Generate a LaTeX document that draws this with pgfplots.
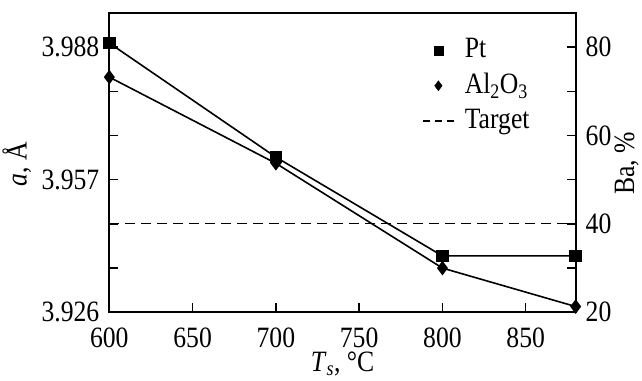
\documentclass[border=0pt]{standalone}
\usepackage{fontspec}
\setmainfont{Liberation Serif}[FakeStretch=0.87]
\usepackage{pgfplots}
\pgfplotsset{compat=1.18}
\begin{document}
\fontsize{29.5}{34}\selectfont
\begin{tikzpicture}
\path[use as bounding box] (-109.3pt,-67.7pt) rectangle (532.7pt,312.3pt);
\pgfplotsset{
  every axis/.append style={
    width=466.4pt, height=299.3pt, scale only axis,
    xmin=600, xmax=880, ymin=20, ymax=87.7,
    tick align=inside, major tick length=9pt,
    axis line style={line width=1.8pt},
    tick style={line width=1.4pt, black},
    /pgf/number format/assume math mode=true,
    tick label style={font=\fontsize{29.5}{34}\selectfont},
    label style={font=\fontsize{29.5}{34}\selectfont, inner sep=0pt},
  }
}
\begin{axis}[
  xtick={600,650,...,850}, xtick pos=left,
  ytick={20,30,...,80}, ytick pos=left,
  yticklabels={3.926,,,3.957,,,3.988},
  xticklabel style={yshift=-6pt},
  xlabel={\textit{T}\textsubscript{\textit{s}}, °C},
  xlabel style={at={(axis description cs:0.5,-0.199)}, anchor=base},
  ylabel={\textit{a}, Å},
  ylabel style={at={(axis description cs:-0.1771,0.495)}, anchor=base},
  legend style={draw=none, fill=none, at={(0.67,0.922)}, anchor=north west,
    inner sep=0pt, font=\fontsize{29.5}{34}\selectfont, row sep=7pt,
    /tikz/every odd column/.append style={column sep=8pt}},
  legend cell align=left,
  legend image code/.code={\draw[mark repeat=2,mark phase=2,#1] plot coordinates {(0pt,0pt) (15.8pt,0pt) (31.6pt,0pt)};},
]
\addplot[black, line width=1.6pt, mark=square*, mark size=5.5pt, forget plot] coordinates {
  (600,80.9) (700,55.1) (800,32.75) (880,32.75)};
\addplot[black, line width=1.6pt, mark=diamond*, mark size=6pt, forget plot] coordinates {
  (600,73.2) (700,53.7) (800,30.0) (880,21.3)};
\addplot[black, line width=1.2pt, dash pattern=on 10pt off 6pt, forget plot] coordinates {
  (600,40) (880,40)};
\addlegendimage{only marks, black, mark=square*, mark size=4.5pt}
\addlegendentry{Pt}
\addlegendimage{only marks, black, mark=diamond*, mark size=5pt}
\addlegendentry{Al\textsubscript{2}O\textsubscript{3}}
\addlegendimage{black, line width=1.2pt, dash pattern=on 7pt off 5pt}
\addlegendentry{Target}
\end{axis}
\begin{axis}[
  hide x axis,
  ytick={20,30,...,80}, ytick pos=right, yticklabel pos=right,
  yticklabels={20,,40,,60,,80},
  ylabel={Ba, \%},
  ylabel style={at={(axis description cs:1.125,0.497)}, anchor=base},
]
\end{axis}
\end{tikzpicture}
\end{document}
